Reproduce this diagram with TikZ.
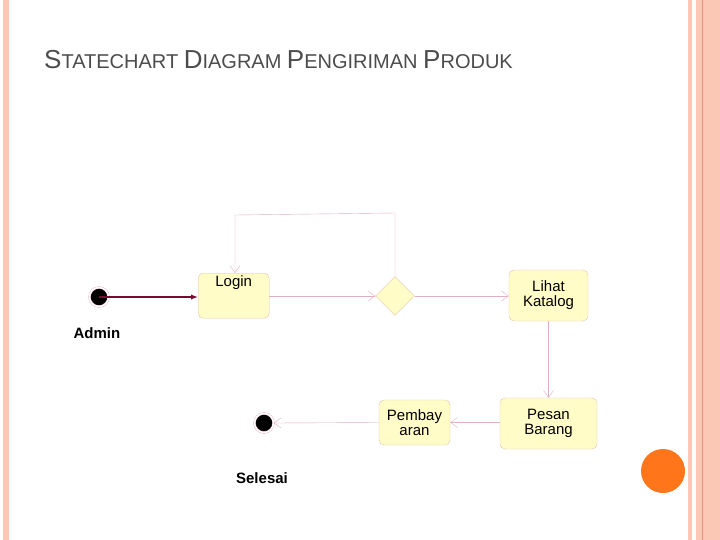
\documentclass[tikz,border=0pt]{standalone}
\usepackage{fontspec}
\setmainfont{Liberation Sans}
\usetikzlibrary{arrows.meta,shapes.geometric}
\definecolor{bord}{RGB}{250,200,180}
\definecolor{bordline}{RGB}{230,150,120}
\definecolor{stateFill}{RGB}{255,252,200}
\definecolor{stateLine}{RGB}{225,195,170}
\definecolor{flow}{RGB}{225,175,195}
\definecolor{startLine}{RGB}{120,10,50}
\tikzset{
  stateBox/.style={rectangle, rounded corners=5pt, draw=stateLine, fill=stateFill, align=center, font=\fontsize{15}{15}\selectfont, inner sep=2pt},
  dot/.style={circle, fill=black, draw=flow, double=white, double distance=1.5pt, minimum width=15pt, minimum height=19pt, inner sep=0pt},
  flowArrow/.style={draw=flow, -{Straight Barb[length=7pt,width=10pt]}},
  caption/.style={font=\fontsize{15}{15}\selectfont\bfseries}
}
\newcommand{\bigL}[1]{{\fontsize{26}{26}\selectfont #1}}
\begin{document}
\begin{tikzpicture}[x=1pt,y=-1pt]
\useasboundingbox (0,0) rectangle (720,540);
\fill[white] (0,0) rectangle (720,540);
% page border
\fill[bord] (3,0) rectangle (9,540);
\fill[bord] (688,0) rectangle (692,540);
\fill[bord] (696,0) rectangle (720,540);
\draw[bordline] (702,0) -- (702,540);
\fill[orange!80!red!90!white] (663,471) circle (22);
% title
\node[anchor=base west, text=black!70, inner sep=0, font=\fontsize{20}{20}\selectfont] (title) at (44,69)
  {\bigL{S}TATECHART \bigL{D}IAGRAM \bigL{P}ENGIRIMAN \bigL{P}RODUK};

% states
\node[dot] (start) at (99,297) {};
\node[caption] (admin) at (97,333) {Admin};
\node[stateBox, minimum width=71pt, minimum height=45pt, anchor=north west, text depth=30pt] (login) at (198,273) {Login};
\node[diamond, draw=stateLine, fill=stateFill, minimum width=39pt, minimum height=39pt, inner sep=0] (choice) at (395,296) {};
\node[stateBox, minimum width=79pt, minimum height=51pt] (katalog) at (548.5,295.5) {Lihat\\Katalog};
\node[stateBox, minimum width=97pt, minimum height=51pt] (pesan) at (548.5,423.5) {Pesan\\Barang};
\node[stateBox, minimum width=71pt, minimum height=45pt] (bayar) at (414.5,422.5) {Pembay\\aran};
\node[dot] (finish) at (264,423) {};
\node[caption] (selesai) at (262,478) {Selesai};

% transitions
\draw[startLine, line width=1.5pt, -{Latex[length=7pt]}] (start.center) -- (login.west |- start);
\draw[flowArrow] (login.east |- choice) -- (choice.west);
\draw[flowArrow] (choice.east) -- (katalog.west |- choice);
\draw[flowArrow] (katalog.south) -- (pesan.north);
\draw[flowArrow] (pesan.west |- bayar) -- (bayar.east);
\draw[flowArrow] (bayar.west) -- (finish.east);
\coordinate (loopR) at (395,213);
\coordinate (loopL) at (235,215);
\draw[flowArrow] (choice.north) -- (loopR) -- (loopL) -- (loopL |- login.north);
\end{tikzpicture}
\end{document}
